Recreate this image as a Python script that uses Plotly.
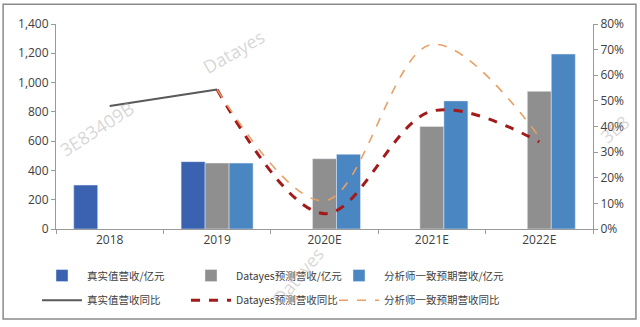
import plotly.graph_objects as go

categories = ["2018", "2019", "2020E", "2021E", "2022E"]
real_rev = [300, 460, None, None, None]
datayes_rev = [None, 450, 480, 700, 940]
analyst_rev = [None, 450, 510, 875, 1195]
real_yoy = [0.48, 0.544, None, None, None]
datayes_yoy = [None, 0.544, 0.06, 0.46, 0.34]
analyst_yoy = [None, 0.544, 0.11, 0.72, 0.36]

FONT = "Open Sans, Noto Sans CJK SC, sans-serif"
LFONT = "Noto Sans CJK SC, sans-serif"
TXT = "#404040"

fig = go.Figure()
fig.add_trace(go.Bar(x=categories, y=real_rev, name="真实值营收/亿元", marker_color="#3A62B0", legend="legend"))
fig.add_trace(go.Bar(x=categories, y=datayes_rev, name="Datayes预测营收/亿元", marker_color="#8F8F8F", legend="legend2"))
fig.add_trace(go.Bar(x=categories, y=analyst_rev, name="分析师一致预期营收/亿元", marker_color="#4A86C2", legend="legend3"))
fig.add_trace(go.Scatter(x=categories, y=real_yoy, name="真实值营收同比", yaxis="y2", mode="lines",
                         line=dict(color="#595959", width=2), legend="legend4"))
fig.add_trace(go.Scatter(x=categories, y=datayes_yoy, name="Datayes预测营收同比", yaxis="y2", mode="lines",
                         line=dict(color="#A31A1A", width=3, dash="dash", shape="spline", smoothing=1.0),
                         legend="legend5"))
fig.add_trace(go.Scatter(x=categories, y=analyst_yoy, name="分析师一致预期营收同比", yaxis="y2", mode="lines",
                         line=dict(color="#E8A065", width=1.6, dash="dash", shape="spline", smoothing=1.0),
                         legend="legend6"))

axis_common = dict(showgrid=False, zeroline=False, showline=True, linecolor="#9a9a9a", linewidth=1,
                   ticks="outside", ticklen=4, tickcolor="#9a9a9a",
                   tickfont=dict(family=FONT, size=12, color=TXT))

def leg(px, py):
    return dict(orientation="h", x=(px - 56) / 537, y=-(py - 231) / 207, xanchor="left", yanchor="middle",
                itemwidth=40, font=dict(family=LFONT, size=10.5, color=TXT),
                bgcolor="rgba(0,0,0,0)")

cols = [37, 186, 334]
rows = [278, 303]

fig.update_layout(
    width=640, height=327,
    margin=dict(l=56, r=47, t=24, b=96),
    paper_bgcolor="white", plot_bgcolor="white",
    barmode="group", bargap=0.33, bargroupgap=0,
    xaxis=dict(**axis_common, tickson="boundaries", type="category"),
    yaxis=dict(**axis_common, range=[0, 1400], dtick=200, tickformat=","),
    yaxis2=dict(**axis_common, overlaying="y", side="right", range=[0, 0.8], dtick=0.1, tickformat=".0%"),
    legend=leg(cols[0], rows[0]),
    legend2=leg(cols[1], rows[0]),
    legend3=leg(cols[2], rows[0]),
    legend4=leg(cols[0], rows[1]),
    legend5=leg(cols[1], rows[1]),
    legend6=leg(cols[2], rows[1]),
    showlegend=True,
)

# outer border
fig.add_shape(type="rect", xref="paper", yref="paper", x0=-0.0985, x1=1.080, y0=-0.4396, y1=1.0966,
              line=dict(color="#8a8a8a", width=1.5), fillcolor="rgba(0,0,0,0)", layer="below")

# watermarks
wm = [("Datayes", 0.33, 0.865, -30), ("3E83409B", 0.075, 0.49, -33), ("Datayes", 0.45, -0.227, -50),
      ("3E8", 1.04, 0.49, -40)]
for t, x, y, a in wm:
    fig.add_annotation(text=t, x=x, y=y, xref="paper", yref="paper", showarrow=False, textangle=a,
                       xanchor="center", yanchor="middle",
                       font=dict(family=FONT, size=18, color="rgba(175,175,175,0.5)"))

fig.write_html("out.html")
